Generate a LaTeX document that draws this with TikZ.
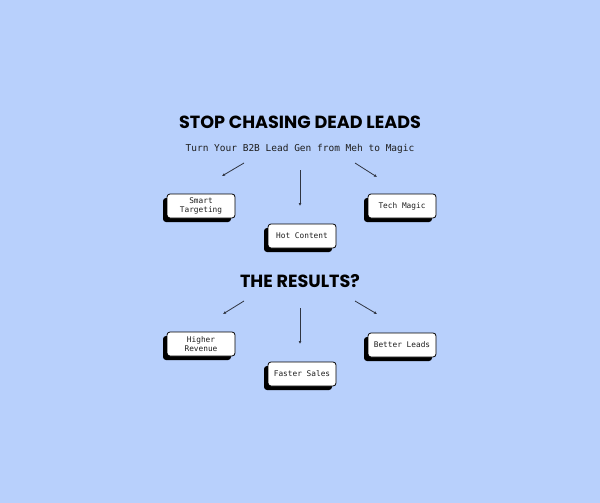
\documentclass[tikz,border=0pt]{standalone}
\usepackage{fontspec}
\setmonofont{DejaVu Sans Mono}
\newfontfamily\headfont{Poppins}
\usetikzlibrary{arrows.meta, positioning, shadows}
\definecolor{SkyBack}{HTML}{B8D0FC}
\definecolor{InkDark}{HTML}{1E1E1E}
\definecolor{LineGray}{HTML}{2F3440}

\begin{document}
\begin{tikzpicture}[
  x=1pt, y=-1pt,
  card/.style={rectangle, rounded corners=3pt, draw=black, line width=0.8pt, fill=white,
               minimum width=68pt, minimum height=24pt, inner sep=1pt, align=center,
               font=\ttfamily\fontsize{7.8}{8.6}\selectfont, text=InkDark,
               drop shadow={shadow xshift=-4pt, shadow yshift=-4pt, opacity=1, fill=black}},
  head/.style={font=\headfont\bfseries\fontsize{17.6}{20}\selectfont, text=black},
  arr/.style={-{Latex[length=3pt, width=3pt]}, line width=0.8pt, color=LineGray}
]
\fill[SkyBack] (0,0) rectangle (600,503);
\useasboundingbox (0,0) rectangle (600,503);

% top part
\node[head] (title) at (300,122) {STOP CHASING DEAD LEADS};
\node[font=\ttfamily\fontsize{9.5}{11}\selectfont, text=InkDark] (sub) at (300,149)
  {Turn Your B2B Lead Gen from Meh to Magic};

\node[card] (smart) at (201,206) {Smart\\Targeting};
\node[card] (hot)   at (302,236) {Hot Content};
\node[card] (tech)  at (402,206) {Tech Magic};

\coordinate (s1) at (244,163); \coordinate (e1) at (222,176);
\coordinate (s2) at (300,170); \coordinate (e2) at (300,206);
\coordinate (s3) at (355,163); \coordinate (e3) at (377,177);
\draw[arr] (s1) -- (e1);
\draw[arr] (s2) -- (e2);
\draw[arr] (s3) -- (e3);

% results
\node[head] (results) at (300,281) {THE RESULTS?};

\node[card] (revenue) at (201,344) {Higher\\Revenue};
\node[card] (sales)   at (302,374) {Faster Sales};
\node[card] (leads)   at (402,345) {Better Leads};

\coordinate (s4) at (244,301); \coordinate (e4) at (223,314);
\coordinate (s5) at (300,308); \coordinate (e5) at (300,344);
\coordinate (s6) at (355,301); \coordinate (e6) at (377,314);
\draw[arr] (s4) -- (e4);
\draw[arr] (s5) -- (e5);
\draw[arr] (s6) -- (e6);

\end{tikzpicture}
\end{document}
